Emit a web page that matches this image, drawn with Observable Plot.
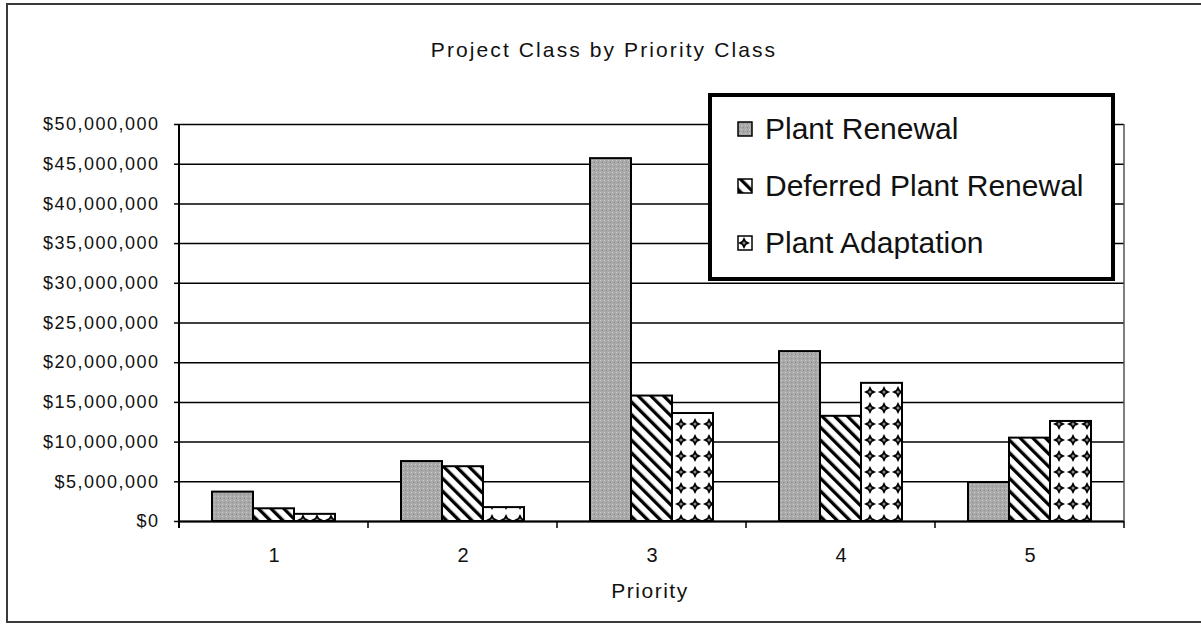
<!DOCTYPE html>
<html><head><meta charset="utf-8">
<script src="https://cdn.jsdelivr.net/npm/d3@7"></script>
<script src="https://cdn.jsdelivr.net/npm/@observablehq/plot@0.6"></script>
<style>
body{margin:0;background:#fff;font-family:"Liberation Sans",Arial,sans-serif;}
#wrap{position:relative;width:1201px;height:624px;overflow:hidden;background:#fff;}
#frame{position:absolute;left:6px;top:3px;width:1300px;height:620px;border:2px solid #3a3a3a;box-sizing:border-box;}
#title{position:absolute;left:0;width:1208px;top:38px;text-align:center;font-size:21px;letter-spacing:2.1px;color:#111;}
#xlabel{position:absolute;left:550px;width:200px;top:579px;text-align:center;font-size:21px;letter-spacing:1.5px;color:#111;}
#chart{position:absolute;left:0;top:0;}
#legend{position:absolute;left:708px;top:93px;width:407px;height:188px;border:4px solid #000;box-sizing:border-box;background:#fff;}
#legend .row{position:absolute;left:25px;height:30px;display:flex;align-items:center;font-size:30px;color:#111;white-space:nowrap;}
#legend .row svg{margin-right:12px;}
g[aria-label="y-axis tick label"] text{letter-spacing:1.5px;}
g[aria-label="fx-axis tick label"] text{font-size:20px;}
</style>
</head><body>
<svg width="0" height="0" style="position:absolute">
<defs>
<pattern id="pr" patternUnits="userSpaceOnUse" width="4" height="4">
 <rect width="4" height="4" fill="#a9a9a9"/>
 <rect x="0" y="0" width="1" height="1" fill="#cfcfcf"/>
 <rect x="2" y="2" width="1" height="1" fill="#8e8e8e"/>
</pattern>
<pattern id="dpr" patternUnits="userSpaceOnUse" width="9" height="9" patternTransform="rotate(-45)">
 <rect width="9" height="9" fill="#fff"/>
 <rect width="3.3" height="9" fill="#000"/>
</pattern>
<pattern id="pa" patternUnits="userSpaceOnUse" width="14" height="16">
 <rect width="14" height="16" fill="#fff"/>
 <path d="M7,2 L9,6 L13,8 L9,10 L7,14 L5,10 L1,8 L5,6Z" fill="#000"/>
 <circle cx="7" cy="8" r="1.5" fill="#888"/>
</pattern>
</defs>
</svg>
<div id="wrap">
  <div id="frame"></div>
  <div id="chart"></div>
  <div id="title">Project Class by Priority Class</div>
  <div id="xlabel">Priority</div>
  <div id="legend"></div>
</div>
<script>
// ---- data (values in $ millions) ----
const priorities = [1, 2, 3, 4, 5];
const seriesNames = ["Plant Renewal", "Deferred Plant Renewal", "Plant Adaptation"];
const plantRenewal = [3.7, 7.55, 45.7, 21.4, 4.9];
const deferredPlantRenewal = [1.6, 6.9, 15.8, 13.25, 10.5];
const plantAdaptation = [0.9, 1.75, 13.6, 17.4, 12.6];
const yTicks = [0, 5e6, 10e6, 15e6, 20e6, 25e6, 30e6, 35e6, 40e6, 45e6, 50e6];
const patternFills = ["url(#pr)", "url(#dpr)", "url(#pa)"];

const seriesValues = [plantRenewal, deferredPlantRenewal, plantAdaptation];
const rows = [];
priorities.forEach((p, i) => {
  seriesNames.forEach((s, j) => {
    rows.push({priority: p, series: s, value: seriesValues[j][i] * 1e6});
  });
});

const plot = Plot.plot({
  width: 1201,
  height: 624,
  marginTop: 124,
  marginBottom: 103,
  marginLeft: 177,
  marginRight: 76,
  style: {fontFamily: '"Liberation Sans", Arial, sans-serif', fontSize: "18px", color: "#111", background: "transparent"},
  fx: {domain: priorities, padding: 0, axis: null},
  x: {domain: seriesNames, paddingInner: 0, paddingOuter: 0.79, axis: null},
  y: {domain: [0, 50e6], axis: null},
  color: {domain: seriesNames, range: patternFills, legend: false},
  marks: [
    Plot.gridY(yTicks, {stroke: "#000", strokeOpacity: 1, strokeWidth: 1.5}),
    Plot.barY(rows, {fx: "priority", x: "series", y: "value", fill: "series", stroke: "#000", strokeWidth: 2}),
    Plot.ruleY([0], {stroke: "#000", strokeWidth: 2}),
    Plot.axisY(yTicks, {tickFormat: d3.format("$,"), tickSize: 5, tickPadding: 15, stroke: "#000", strokeWidth: 1.5, fontSize: 18, label: null}),
    Plot.axisFx({anchor: "bottom", tickSize: 0, tickPadding: 26, fontSize: 20, label: null})
  ]
});
document.getElementById("chart").appendChild(plot);

// axis line, plot-area right border and category-boundary ticks from Plot's own scales
const ys = plot.scale("y"), fxs = plot.scale("fx");
const svg = d3.select(plot);
const y0 = ys.apply(0), yTop = ys.apply(50e6);
const xLeft = fxs.apply(priorities[0]);
const xRight = fxs.apply(priorities[priorities.length - 1]) + fxs.bandwidth;
const g = svg.append("g");
g.append("line").attr("x1", xRight).attr("x2", xRight).attr("y1", yTop).attr("y2", y0).attr("stroke", "#555").attr("stroke-width", 1.5);
g.append("line").attr("x1", xLeft).attr("x2", xLeft).attr("y1", yTop).attr("y2", y0 + 7).attr("stroke", "#000").attr("stroke-width", 2);
priorities.slice(1).map(p => fxs.apply(p)).concat([xRight]).forEach(x => {
  g.append("line").attr("x1", x).attr("x2", x).attr("y1", y0).attr("y2", y0 + 7).attr("stroke", "#000").attr("stroke-width", 1.5);
});

// legend
const legend = document.getElementById("legend");
const rowTops = [17, 74, 131];
seriesNames.forEach((s, j) => {
  const row = document.createElement("div");
  row.className = "row";
  row.style.top = rowTops[j] + "px";
  row.innerHTML = `<svg width="16" height="16"><rect x="1" y="1" width="14" height="14" fill="${patternFills[j]}" stroke="#000" stroke-width="1.5"/></svg><span>${s}</span>`;
  legend.appendChild(row);
});
</script>
</body></html>
